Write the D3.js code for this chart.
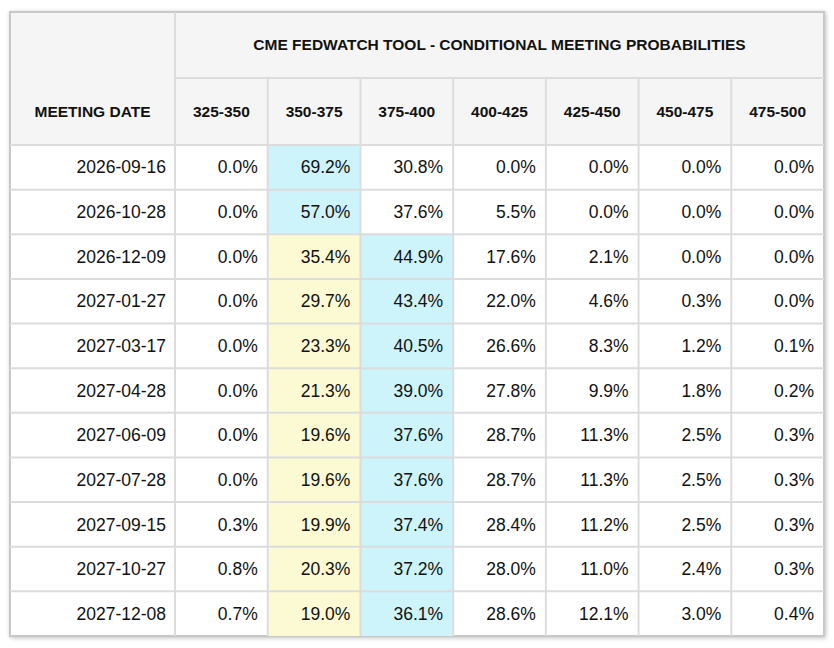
<!DOCTYPE html>
<html lang="en">
<head>
<meta charset="UTF-8">
<title>CME FedWatch Tool - Conditional Meeting Probabilities</title>
<script src="https://d3js.org/d3.v7.min.js"></script>
<style>
  body { margin: 0; background: #fff; font-family: "Liberation Sans", Arial, sans-serif; }
</style>
</head>
<body>
<script>
const title = "CME FEDWATCH TOOL - CONDITIONAL MEETING PROBABILITIES";
const ranges = ["325-350", "350-375", "375-400", "400-425", "425-450", "450-475", "475-500"];
const dates = ["2026-09-16", "2026-10-28", "2026-12-09", "2027-01-27", "2027-03-17", "2027-04-28",
  "2027-06-09", "2027-07-28", "2027-09-15", "2027-10-27", "2027-12-08"];
const probs = [
  [0.0, 69.2, 30.8, 0.0, 0.0, 0.0, 0.0],
  [0.0, 57.0, 37.6, 5.5, 0.0, 0.0, 0.0],
  [0.0, 35.4, 44.9, 17.6, 2.1, 0.0, 0.0],
  [0.0, 29.7, 43.4, 22.0, 4.6, 0.3, 0.0],
  [0.0, 23.3, 40.5, 26.6, 8.3, 1.2, 0.1],
  [0.0, 21.3, 39.0, 27.8, 9.9, 1.8, 0.2],
  [0.0, 19.6, 37.6, 28.7, 11.3, 2.5, 0.3],
  [0.0, 19.6, 37.6, 28.7, 11.3, 2.5, 0.3],
  [0.3, 19.9, 37.4, 28.4, 11.2, 2.5, 0.3],
  [0.8, 20.3, 37.2, 28.0, 11.0, 2.4, 0.3],
  [0.7, 19.0, 36.1, 28.6, 12.1, 3.0, 0.4]
];
const currentRange = "350-375";

const W = 834, H = 648;
const x0 = 10, y0 = 12, firstW = 165, x1 = 824;
const head1 = 66, head2 = 67, y1 = 636;
const border = "#dcdcdc";

const svg = d3.select("body").append("svg").attr("width", W).attr("height", H);
svg.append("defs").append("filter").attr("id", "sh")
  .append("feDropShadow").attr("dx", 1).attr("dy", 1).attr("stdDeviation", 2).attr("flood-opacity", 0.25);

const x = d3.scaleBand().domain(ranges).range([x0 + firstW, x1]);
const y = d3.scaleBand().domain(dates).range([y0 + head1 + head2, y1]);

svg.append("rect").attr("x", x0).attr("y", y0).attr("width", x1 - x0).attr("height", y1 - y0)
  .attr("fill", "#fff").attr("stroke", "#c8c8c8").attr("stroke-width", 2).attr("filter", "url(#sh)");
svg.append("rect").attr("x", x0 + 1).attr("y", y0 + 1).attr("width", x1 - x0 - 2).attr("height", head1 + head2 - 1)
  .attr("fill", "#f5f5f5");

// highlighted cells: row max in cyan, current target range in yellow
probs.forEach((row, i) => {
  const mx = d3.max(row);
  row.forEach((v, j) => {
    let fill = null;
    if (v === mx) fill = "#cdf3fb";
    else if (ranges[j] === currentRange) fill = "#fbfad3";
    if (fill) svg.append("rect").attr("x", x(ranges[j])).attr("y", y(dates[i]))
      .attr("width", x.bandwidth()).attr("height", y.bandwidth()).attr("fill", fill);
  });
});

const g = svg.append("g").attr("stroke", border).attr("stroke-width", 2);
g.append("line").attr("x1", x0 + firstW).attr("x2", x0 + firstW).attr("y1", y0).attr("y2", y1);
ranges.slice(1).forEach(r => g.append("line").attr("x1", x(r)).attr("x2", x(r))
  .attr("y1", y0 + head1).attr("y2", y1));
g.append("line").attr("x1", x0 + firstW).attr("x2", x1).attr("y1", y0 + head1).attr("y2", y0 + head1);
g.append("line").attr("x1", x0).attr("x2", x1).attr("y1", y0 + head1 + head2).attr("y2", y0 + head1 + head2);
dates.slice(1).forEach(d => g.append("line").attr("x1", x0).attr("x2", x1).attr("y1", y(d)).attr("y2", y(d)));

svg.append("text").attr("x", (x0 + firstW + x1) / 2).attr("y", y0 + head1 / 2).attr("dy", "0.35em")
  .attr("text-anchor", "middle").attr("font-size", 15.5).attr("font-weight", "bold").attr("fill", "#111").text(title);
svg.append("text").attr("x", x0 + firstW / 2).attr("y", y0 + head1 + head2 / 2).attr("dy", "0.35em")
  .attr("text-anchor", "middle").attr("font-size", 15.5).attr("font-weight", "bold").attr("fill", "#111").text("MEETING DATE");
svg.selectAll(".rh").data(ranges).join("text")
  .attr("x", d => x(d) + x.bandwidth() / 2).attr("y", y0 + head1 + head2 / 2).attr("dy", "0.35em")
  .attr("text-anchor", "middle").attr("font-size", 15.5).attr("font-weight", "bold").attr("fill", "#111").text(d => d);

svg.selectAll(".dt").data(dates).join("text")
  .attr("x", x0 + firstW - 9).attr("y", d => y(d) + y.bandwidth() / 2).attr("dy", "0.35em")
  .attr("text-anchor", "end").attr("font-size", 17.5).attr("fill", "#111").text(d => d);
probs.forEach((row, i) => {
  row.forEach((v, j) => {
    svg.append("text").attr("x", x(ranges[j]) + x.bandwidth() - 10).attr("y", y(dates[i]) + y.bandwidth() / 2)
      .attr("dy", "0.35em").attr("text-anchor", "end").attr("font-size", 17.5).attr("fill", "#111")
      .text(v.toFixed(1) + "%");
  });
});
</script>
</body>
</html>
